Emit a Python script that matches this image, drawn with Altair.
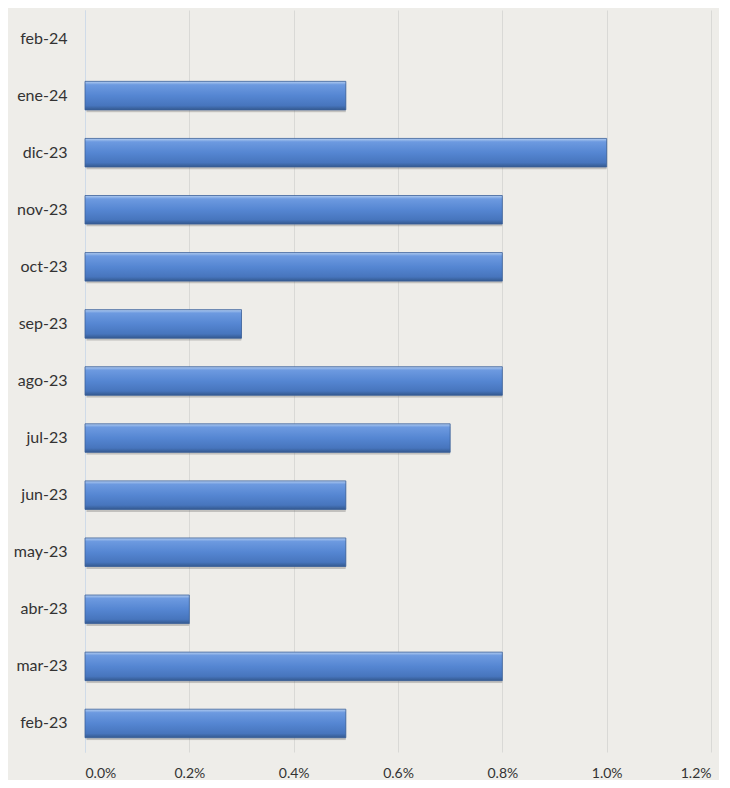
import altair as alt
import pandas as pd

months = ["feb-24", "ene-24", "dic-23", "nov-23", "oct-23", "sep-23", "ago-23",
          "jul-23", "jun-23", "may-23", "abr-23", "mar-23", "feb-23"]
values = [None, 0.005, 0.010, 0.008, 0.008, 0.003, 0.008,
          0.007, 0.005, 0.005, 0.002, 0.008, 0.005]
x_ticks = [0.0, 0.002, 0.004, 0.006, 0.008, 0.010, 0.012]

df = pd.DataFrame({"mes": months, "valor": values})

font = "Lato"

x_enc = alt.X("valor:Q", scale=alt.Scale(domain=[0, 0.012], nice=False),
              axis=alt.Axis(format=".1%", values=x_ticks, title=None, ticks=False,
                            domain=False, grid=True, gridColor="#d9d9d6", gridWidth=1,
                            labelFont=font, labelFontSize=14, labelColor="#333333",
                            labelPadding=14))
y_enc = alt.Y("mes:N", sort=months,
              scale=alt.Scale(domain=months, paddingInner=0.5, paddingOuter=0.25),
              axis=alt.Axis(title=None, ticks=False, domain=True, domainColor="#cfdbe8",
                            labelFont=font, labelFontSize=16, labelColor="#333333",
                            labelPadding=18))

shadow = alt.Chart(df).mark_bar(color="#6f6f6f", opacity=0.35, yOffset=2.5, xOffset=1.5,
                                cornerRadius=1).encode(x=x_enc, y=y_enc)

bars = alt.Chart(df).mark_bar(
    color=alt.Gradient(
        gradient="linear", x1=0, y1=0, x2=0, y2=1,
        stops=[alt.GradientStop(offset=0, color="#b3cdf0"),
               alt.GradientStop(offset=0.12, color="#6d9ae0"),
               alt.GradientStop(offset=0.5, color="#5586d2"),
               alt.GradientStop(offset=0.85, color="#4775bd"),
               alt.GradientStop(offset=1, color="#34598f")]),
    stroke="#3a6099", strokeWidth=0.8
).encode(x=x_enc, y=y_enc)

chart = alt.layer(shadow, bars).properties(
    width=626, height=742,
    background="#eeede9",
    padding={"left": 77, "top": 2, "right": 8, "bottom": 28},
    autosize=alt.AutoSizeParams(type="none")
).configure_view(stroke=None)

chart.save("out.html", embed_options={"renderer": "svg", "actions": False})
